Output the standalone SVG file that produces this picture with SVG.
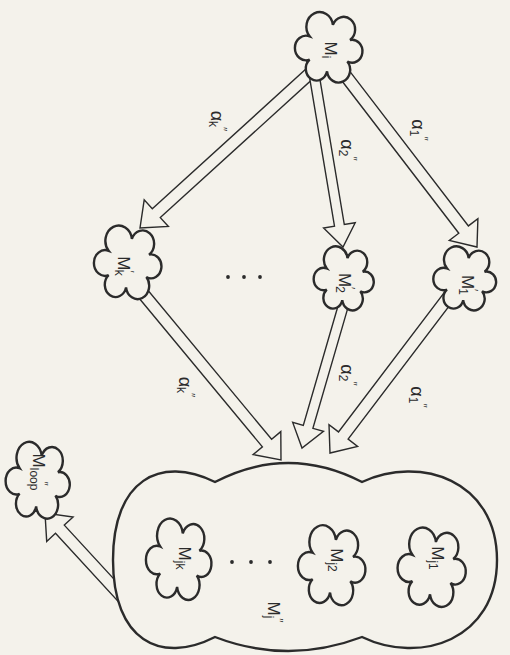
<svg xmlns="http://www.w3.org/2000/svg" xmlns:xlink="http://www.w3.org/1999/xlink" width="510" height="655" viewBox="0 0 510 655">
<style>
.bg{fill:#f4f2eb}
.cl{fill:#f4f2eb;stroke:#2b2b2b;stroke-width:2.4}
.ar{fill:#f4f2eb;stroke:#2b2b2b;stroke-width:1.4;stroke-linejoin:miter}
.big{fill:#f4f2eb;stroke:#2b2b2b;stroke-width:2.4}
.t{font-family:"Liberation Sans",Arial,sans-serif;font-size:17px;fill:#2b2b2b}
.a{font-size:18px}
.s{font-size:12px}
.dot{fill:#2b2b2b}
</style>
<defs>
<path id="cloud" vector-effect="non-scaling-stroke" d="M3.89,-20.96 A11.5,11.5 0 1 1 21.04,-7.28 A10.4,10.4 0 1 1 18.35,12.21 A11.6,11.6 0 1 1 -1.95,21.2 A10.75,10.75 0 1 1 -19.4,10.64 A11.2,11.2 0 1 1 -19.4,-10.64 A13.3,13.3 0 1 1 3.89,-20.96 Z"/>
</defs>
<rect class="bg" x="0" y="0" width="510" height="655"/>
<g id="connectors">
<polygon class="ar" points="321.0,55.3 152.3,208.8 144.2,199.9 140,228 168.4,226.5 160.3,217.6 329.0,64.1"/>
<polygon class="ar" points="306.7,60.4 334.5,226.1 323.6,228.0 343,247 355.2,222.7 344.3,224.5 316.5,58.8"/>
<polygon class="ar" points="332.2,68.2 458.8,233.2 449.3,240.5 477,247 477.9,218.6 468.4,225.9 341.8,60.9"/>
<polygon class="ar" points="129.6,286.8 262.4,446.9 253.1,454.6 281,460 280.8,431.6 271.6,439.3 138.8,279.2"/>
<polygon class="ar" points="344.6,283.3 303.3,425.5 292.7,422.4 302,448 323.5,431.4 312.9,428.3 354.2,286.1"/>
<polygon class="ar" points="455.2,278.2 338.5,431.9 329.0,424.6 330,453 357.6,446.4 348.1,439.1 464.8,285.4"/>
<polygon class="ar" points="164.4,633.9 64.3,525.1 73.1,517.0 45,513 46.7,541.4 55.5,533.3 155.6,642.1"/>
<text class="t a" transform="translate(217,121) rotate(90)" text-anchor="middle" dominant-baseline="central">α<tspan class="s" dy="4">k</tspan><tspan class="s" dy="-9">″</tspan></text>
<text class="t a" transform="translate(347,150) rotate(90)" text-anchor="middle" dominant-baseline="central">α<tspan class="s" dy="4">2</tspan><tspan class="s" dy="-9">″</tspan></text>
<text class="t a" transform="translate(418,130) rotate(90)" text-anchor="middle" dominant-baseline="central">α<tspan class="s" dy="4">1</tspan><tspan class="s" dy="-9">″</tspan></text>
<text class="t a" transform="translate(185,387) rotate(90)" text-anchor="middle" dominant-baseline="central">α<tspan class="s" dy="4">k</tspan><tspan class="s" dy="-9">″</tspan></text>
<text class="t a" transform="translate(347,375) rotate(90)" text-anchor="middle" dominant-baseline="central">α<tspan class="s" dy="4">2</tspan><tspan class="s" dy="-9">″</tspan></text>
<text class="t a" transform="translate(417,397) rotate(90)" text-anchor="middle" dominant-baseline="central">α<tspan class="s" dy="4">1</tspan><tspan class="s" dy="-9">″</tspan></text>
</g>
<g id="Mi">
<use xlink:href="#cloud" class="cl" transform="translate(329,48) scale(1.0,1.1)"/>
<text class="t" transform="translate(330,50) rotate(90)" text-anchor="middle" dominant-baseline="central">M<tspan class="s" dy="4">i</tspan></text>
</g>
<g id="Mk1">
<use xlink:href="#cloud" class="cl" transform="translate(128,263) scale(1.0,1.15)"/>
<text class="t" transform="translate(123,266) rotate(90)" text-anchor="middle" dominant-baseline="central">M<tspan class="s" dy="-6">′</tspan><tspan class="s" dx="-3" dy="10">k</tspan></text>
</g>
<g id="M21">
<use xlink:href="#cloud" class="cl" transform="translate(344,279) scale(0.89,1.0)"/>
<text class="t" transform="translate(344,283) rotate(90)" text-anchor="middle" dominant-baseline="central">M<tspan class="s" dy="-6">′</tspan><tspan class="s" dx="-3" dy="10">2</tspan></text>
</g>
<g id="M11">
<use xlink:href="#cloud" class="cl" transform="translate(465,279) scale(0.93,1.0)"/>
<text class="t" transform="translate(467,285) rotate(90)" text-anchor="middle" dominant-baseline="central">M<tspan class="s" dy="-6">′</tspan><tspan class="s" dx="-3" dy="10">1</tspan></text>
</g>
<g id="dots-top">
<circle class="dot" cx="228" cy="277" r="1.9"/>
<circle class="dot" cx="244" cy="277" r="1.9"/>
<circle class="dot" cx="260" cy="277" r="1.9"/>
</g>
<g id="Mloop">
<use xlink:href="#cloud" class="cl" transform="translate(38,481) scale(0.95,1.2)"/>
<text class="t" transform="translate(38,472) rotate(90)" text-anchor="middle" dominant-baseline="central">M<tspan class="s" dy="4">loop</tspan><tspan class="s" dx="-9" dy="-9">″</tspan></text>
</g>
<g id="Mj2x">
<path class="big" d="M215,482 Q288,444 362,482 C420,455 497,480 497,560 C497,640 420,665 362,637 Q288,665 215,637 C160,665 113,640 113,560 C113,480 160,455 215,482 Z"/>
<text class="t" transform="translate(273,612) rotate(90)" text-anchor="middle" dominant-baseline="central">M<tspan class="s" dy="4">j</tspan><tspan class="s" dy="-9">″</tspan></text>
</g>
<g id="Mjk">
<use xlink:href="#cloud" class="cl" transform="translate(179,560) scale(0.97,1.27)"/>
<text class="t" transform="translate(184,558) rotate(90)" text-anchor="middle" dominant-baseline="central">M<tspan class="s" dy="4">jk</tspan></text>
</g>
<g id="Mj2">
<use xlink:href="#cloud" class="cl" transform="translate(332,566) scale(1.0,1.25)"/>
<text class="t" transform="translate(336,560) rotate(90)" text-anchor="middle" dominant-baseline="central">M<tspan class="s" dy="4">j2</tspan></text>
</g>
<g id="Mj1">
<use xlink:href="#cloud" class="cl" transform="translate(432,568) scale(1.01,1.24)"/>
<text class="t" transform="translate(437,558) rotate(90)" text-anchor="middle" dominant-baseline="central">M<tspan class="s" dy="4">j1</tspan></text>
</g>
<g id="dots-inner">
<circle class="dot" cx="232" cy="562" r="1.9"/>
<circle class="dot" cx="251" cy="562" r="1.9"/>
<circle class="dot" cx="270" cy="562" r="1.9"/>
</g>
</svg>
